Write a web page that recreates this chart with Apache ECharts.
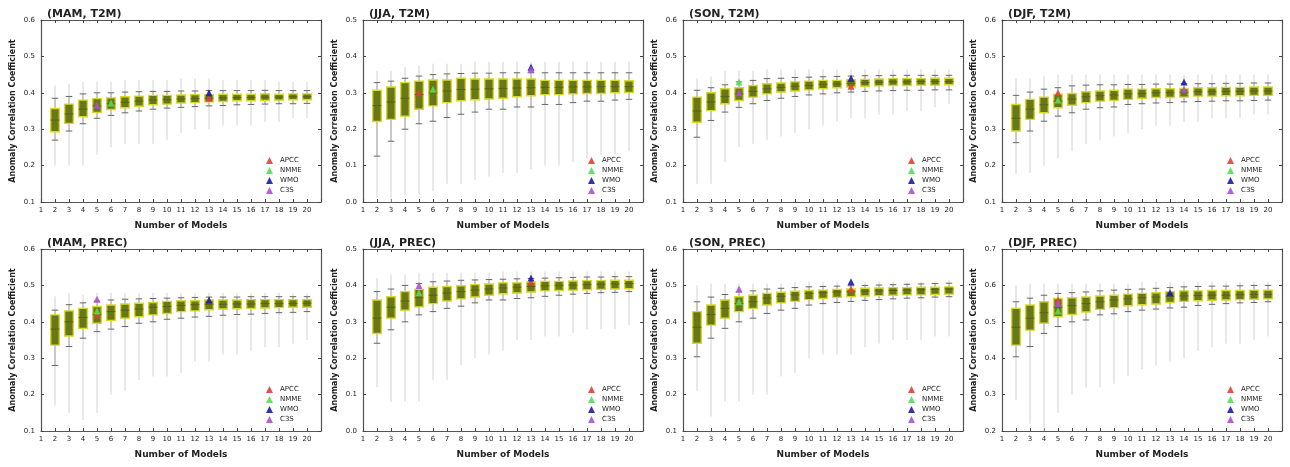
<!DOCTYPE html>
<html>
<head>
<meta charset="utf-8">
<title>Anomaly Correlation Coefficient vs Number of Models</title>
<script src="https://cdn.jsdelivr.net/npm/echarts@6/dist/echarts.min.js"></script>
<style>
  html, body { margin: 0; padding: 0; background: #fff; }
  #chart { width: 1290px; height: 467px; }
</style>
</head>
<body>
<div id="chart"></div>
<script>
// Ensemble sizes that have a box (1 model has none)
const modelCounts = [2, 3, 4, 5, 6, 7, 8, 9, 10, 11, 12, 13, 14, 15, 16, 17, 18, 19, 20];
const mmeNames = ['APCC', 'NMME', 'WMO', 'C3S'];
const mmeColors = ['#e0403a', '#55dd55', '#1c1ca8', '#b050d0'];

// Each row: [min, lower whisker, Q1, median, Q3, upper whisker, max]
const MAM_T2M = [
  [0.20, 0.270, 0.293, 0.325, 0.357, 0.385, 0.420],
  [0.20, 0.295, 0.316, 0.342, 0.369, 0.390, 0.425],
  [0.20, 0.315, 0.334, 0.355, 0.380, 0.397, 0.430],
  [0.23, 0.330, 0.346, 0.364, 0.384, 0.400, 0.430],
  [0.25, 0.338, 0.354, 0.370, 0.386, 0.400, 0.430],
  [0.26, 0.345, 0.359, 0.374, 0.389, 0.402, 0.435],
  [0.26, 0.350, 0.363, 0.377, 0.391, 0.403, 0.435],
  [0.26, 0.355, 0.367, 0.380, 0.393, 0.404, 0.435],
  [0.27, 0.358, 0.369, 0.381, 0.393, 0.404, 0.435],
  [0.29, 0.360, 0.372, 0.383, 0.394, 0.405, 0.440],
  [0.30, 0.362, 0.373, 0.384, 0.395, 0.405, 0.440],
  [0.30, 0.364, 0.375, 0.385, 0.395, 0.406, 0.440],
  [0.31, 0.365, 0.376, 0.386, 0.396, 0.406, 0.435],
  [0.31, 0.367, 0.378, 0.387, 0.396, 0.406, 0.435],
  [0.31, 0.368, 0.378, 0.387, 0.396, 0.406, 0.435],
  [0.32, 0.369, 0.379, 0.388, 0.397, 0.407, 0.435],
  [0.32, 0.370, 0.380, 0.388, 0.396, 0.406, 0.430],
  [0.33, 0.370, 0.381, 0.389, 0.397, 0.406, 0.430],
  [0.33, 0.371, 0.381, 0.389, 0.397, 0.406, 0.430]
];
const JJA_T2M = [
  [0.01, 0.126, 0.221, 0.265, 0.307, 0.328, 0.360],
  [0.00, 0.167, 0.227, 0.275, 0.316, 0.332, 0.360],
  [0.02, 0.200, 0.236, 0.285, 0.328, 0.340, 0.370],
  [0.02, 0.215, 0.255, 0.295, 0.332, 0.346, 0.375],
  [0.03, 0.222, 0.264, 0.300, 0.335, 0.350, 0.380],
  [0.05, 0.232, 0.273, 0.305, 0.335, 0.352, 0.380],
  [0.05, 0.241, 0.278, 0.309, 0.340, 0.353, 0.380],
  [0.06, 0.247, 0.281, 0.310, 0.338, 0.354, 0.385],
  [0.07, 0.255, 0.283, 0.311, 0.338, 0.354, 0.385],
  [0.08, 0.255, 0.285, 0.312, 0.338, 0.355, 0.385],
  [0.08, 0.261, 0.289, 0.313, 0.338, 0.355, 0.385],
  [0.09, 0.261, 0.292, 0.314, 0.338, 0.355, 0.385],
  [0.10, 0.268, 0.295, 0.315, 0.334, 0.355, 0.385],
  [0.10, 0.268, 0.295, 0.315, 0.334, 0.355, 0.385],
  [0.11, 0.273, 0.297, 0.316, 0.334, 0.355, 0.385],
  [0.12, 0.277, 0.298, 0.316, 0.334, 0.355, 0.385],
  [0.13, 0.277, 0.298, 0.317, 0.334, 0.355, 0.385],
  [0.13, 0.280, 0.300, 0.317, 0.334, 0.355, 0.385],
  [0.14, 0.282, 0.301, 0.317, 0.333, 0.355, 0.385]
];
const SON_T2M = [
  [0.15, 0.278, 0.319, 0.350, 0.388, 0.407, 0.440],
  [0.15, 0.324, 0.351, 0.375, 0.400, 0.414, 0.445],
  [0.21, 0.347, 0.370, 0.390, 0.411, 0.422, 0.460],
  [0.25, 0.360, 0.379, 0.397, 0.414, 0.430, 0.460],
  [0.26, 0.370, 0.388, 0.404, 0.420, 0.434, 0.460],
  [0.27, 0.379, 0.397, 0.411, 0.425, 0.439, 0.465],
  [0.28, 0.385, 0.402, 0.415, 0.427, 0.440, 0.465],
  [0.29, 0.390, 0.405, 0.418, 0.430, 0.442, 0.465],
  [0.30, 0.394, 0.408, 0.420, 0.432, 0.443, 0.465],
  [0.31, 0.397, 0.411, 0.423, 0.434, 0.444, 0.465],
  [0.32, 0.400, 0.414, 0.424, 0.434, 0.445, 0.465],
  [0.33, 0.402, 0.416, 0.426, 0.436, 0.446, 0.465],
  [0.33, 0.404, 0.418, 0.428, 0.437, 0.447, 0.465],
  [0.34, 0.405, 0.419, 0.429, 0.438, 0.447, 0.465],
  [0.34, 0.406, 0.420, 0.430, 0.439, 0.448, 0.465],
  [0.35, 0.407, 0.420, 0.430, 0.439, 0.448, 0.465],
  [0.35, 0.407, 0.421, 0.431, 0.439, 0.448, 0.465],
  [0.36, 0.408, 0.421, 0.431, 0.440, 0.448, 0.465],
  [0.37, 0.408, 0.422, 0.431, 0.440, 0.448, 0.465]
];
const DJF_T2M = [
  [0.176, 0.263, 0.295, 0.330, 0.368, 0.393, 0.440],
  [0.18, 0.295, 0.327, 0.355, 0.382, 0.402, 0.440],
  [0.20, 0.322, 0.345, 0.367, 0.388, 0.410, 0.445],
  [0.22, 0.336, 0.359, 0.377, 0.396, 0.414, 0.450],
  [0.24, 0.345, 0.366, 0.383, 0.398, 0.419, 0.450],
  [0.26, 0.355, 0.373, 0.389, 0.403, 0.421, 0.450],
  [0.27, 0.359, 0.377, 0.392, 0.405, 0.422, 0.450],
  [0.28, 0.361, 0.379, 0.394, 0.407, 0.422, 0.450],
  [0.29, 0.368, 0.382, 0.397, 0.410, 0.423, 0.450],
  [0.30, 0.370, 0.385, 0.398, 0.410, 0.423, 0.450],
  [0.31, 0.372, 0.387, 0.400, 0.411, 0.424, 0.450],
  [0.31, 0.373, 0.387, 0.400, 0.411, 0.424, 0.450],
  [0.32, 0.375, 0.388, 0.401, 0.412, 0.425, 0.450],
  [0.32, 0.376, 0.391, 0.403, 0.414, 0.425, 0.450],
  [0.33, 0.377, 0.391, 0.403, 0.414, 0.425, 0.450],
  [0.33, 0.378, 0.392, 0.404, 0.415, 0.426, 0.450],
  [0.33, 0.378, 0.392, 0.404, 0.415, 0.426, 0.450],
  [0.34, 0.379, 0.393, 0.405, 0.416, 0.427, 0.450],
  [0.34, 0.380, 0.393, 0.405, 0.416, 0.427, 0.450]
];
const MAM_PREC = [
  [0.17, 0.280, 0.336, 0.380, 0.419, 0.432, 0.470],
  [0.15, 0.332, 0.361, 0.400, 0.430, 0.447, 0.480],
  [0.13, 0.355, 0.382, 0.412, 0.437, 0.452, 0.475],
  [0.15, 0.373, 0.396, 0.420, 0.442, 0.457, 0.480],
  [0.20, 0.380, 0.404, 0.428, 0.446, 0.460, 0.480],
  [0.21, 0.387, 0.410, 0.432, 0.449, 0.462, 0.480],
  [0.24, 0.396, 0.414, 0.435, 0.451, 0.463, 0.480],
  [0.25, 0.400, 0.419, 0.440, 0.453, 0.464, 0.480],
  [0.25, 0.407, 0.423, 0.442, 0.456, 0.465, 0.480],
  [0.26, 0.410, 0.428, 0.445, 0.458, 0.466, 0.480],
  [0.29, 0.413, 0.430, 0.447, 0.458, 0.467, 0.480],
  [0.29, 0.415, 0.433, 0.448, 0.460, 0.468, 0.480],
  [0.31, 0.418, 0.435, 0.448, 0.460, 0.468, 0.480],
  [0.31, 0.420, 0.436, 0.449, 0.460, 0.468, 0.480],
  [0.32, 0.421, 0.437, 0.449, 0.461, 0.469, 0.480],
  [0.33, 0.423, 0.438, 0.450, 0.461, 0.469, 0.480],
  [0.33, 0.425, 0.439, 0.450, 0.461, 0.469, 0.480],
  [0.34, 0.426, 0.440, 0.450, 0.461, 0.469, 0.480],
  [0.35, 0.428, 0.440, 0.451, 0.461, 0.469, 0.478]
];
const JJA_PREC = [
  [0.12, 0.241, 0.268, 0.310, 0.360, 0.383, 0.420],
  [0.08, 0.278, 0.310, 0.340, 0.369, 0.390, 0.430],
  [0.08, 0.300, 0.332, 0.357, 0.383, 0.400, 0.430],
  [0.08, 0.319, 0.341, 0.366, 0.389, 0.405, 0.435],
  [0.14, 0.328, 0.350, 0.373, 0.395, 0.410, 0.435],
  [0.14, 0.337, 0.357, 0.379, 0.397, 0.412, 0.435],
  [0.18, 0.343, 0.363, 0.383, 0.399, 0.414, 0.435],
  [0.20, 0.352, 0.368, 0.387, 0.402, 0.415, 0.435],
  [0.21, 0.360, 0.373, 0.390, 0.404, 0.416, 0.435],
  [0.22, 0.360, 0.377, 0.393, 0.407, 0.417, 0.438],
  [0.25, 0.364, 0.379, 0.395, 0.407, 0.418, 0.438],
  [0.25, 0.366, 0.382, 0.397, 0.409, 0.419, 0.438],
  [0.26, 0.370, 0.385, 0.399, 0.411, 0.420, 0.438],
  [0.26, 0.373, 0.386, 0.400, 0.411, 0.421, 0.438],
  [0.27, 0.376, 0.387, 0.401, 0.412, 0.422, 0.438],
  [0.28, 0.378, 0.388, 0.402, 0.413, 0.423, 0.438],
  [0.28, 0.380, 0.389, 0.403, 0.413, 0.423, 0.438],
  [0.28, 0.381, 0.390, 0.404, 0.414, 0.424, 0.438],
  [0.29, 0.383, 0.391, 0.405, 0.414, 0.424, 0.438]
];
const SON_PREC = [
  [0.21, 0.304, 0.341, 0.385, 0.428, 0.455, 0.500],
  [0.14, 0.355, 0.391, 0.420, 0.446, 0.468, 0.505],
  [0.18, 0.382, 0.410, 0.437, 0.460, 0.475, 0.505],
  [0.18, 0.400, 0.428, 0.450, 0.469, 0.482, 0.505],
  [0.20, 0.410, 0.437, 0.455, 0.473, 0.485, 0.505],
  [0.20, 0.423, 0.446, 0.465, 0.478, 0.490, 0.505],
  [0.25, 0.432, 0.452, 0.470, 0.481, 0.492, 0.505],
  [0.26, 0.437, 0.456, 0.474, 0.484, 0.494, 0.510],
  [0.30, 0.446, 0.461, 0.478, 0.486, 0.496, 0.510],
  [0.31, 0.450, 0.464, 0.480, 0.487, 0.497, 0.510],
  [0.31, 0.453, 0.467, 0.482, 0.489, 0.498, 0.510],
  [0.31, 0.456, 0.469, 0.483, 0.490, 0.499, 0.510],
  [0.33, 0.459, 0.471, 0.484, 0.492, 0.500, 0.510],
  [0.34, 0.461, 0.472, 0.485, 0.493, 0.501, 0.510],
  [0.35, 0.463, 0.473, 0.486, 0.494, 0.502, 0.510],
  [0.35, 0.465, 0.474, 0.487, 0.494, 0.503, 0.510],
  [0.35, 0.466, 0.474, 0.488, 0.495, 0.504, 0.510],
  [0.36, 0.468, 0.475, 0.489, 0.495, 0.505, 0.510],
  [0.36, 0.469, 0.476, 0.490, 0.496, 0.506, 0.515]
];
const DJF_PREC = [
  [0.285, 0.404, 0.436, 0.485, 0.537, 0.555, 0.600],
  [0.22, 0.432, 0.477, 0.510, 0.546, 0.565, 0.605],
  [0.20, 0.468, 0.496, 0.525, 0.555, 0.573, 0.605],
  [0.25, 0.487, 0.514, 0.540, 0.564, 0.578, 0.605],
  [0.30, 0.500, 0.520, 0.545, 0.566, 0.580, 0.605],
  [0.32, 0.505, 0.527, 0.550, 0.568, 0.582, 0.605],
  [0.32, 0.519, 0.534, 0.555, 0.571, 0.585, 0.605],
  [0.33, 0.522, 0.539, 0.560, 0.573, 0.587, 0.605],
  [0.35, 0.528, 0.544, 0.563, 0.576, 0.589, 0.605],
  [0.37, 0.532, 0.547, 0.566, 0.578, 0.590, 0.610],
  [0.38, 0.535, 0.549, 0.568, 0.580, 0.592, 0.610],
  [0.39, 0.538, 0.553, 0.570, 0.583, 0.594, 0.610],
  [0.40, 0.540, 0.556, 0.571, 0.585, 0.596, 0.610],
  [0.42, 0.545, 0.558, 0.572, 0.585, 0.597, 0.610],
  [0.43, 0.548, 0.559, 0.573, 0.586, 0.598, 0.610],
  [0.44, 0.550, 0.560, 0.573, 0.586, 0.598, 0.610],
  [0.44, 0.552, 0.561, 0.574, 0.586, 0.599, 0.610],
  [0.45, 0.553, 0.562, 0.575, 0.587, 0.600, 0.610],
  [0.46, 0.555, 0.563, 0.575, 0.587, 0.600, 0.610]
];

// Multi-model ensemble scores, in the order APCC, NMME, WMO, C3S: [number of models, ACC]
const MAM_T2M_MME = [[13, 0.385], [6, 0.372], [13, 0.400], [5, 0.366]];
const JJA_T2M_MME = [[5, 0.300], [6, 0.310], [13, 0.370], [13, 0.365]];
const SON_T2M_MME = [[13, 0.418], [5, 0.430], [13, 0.440], [5, 0.400]];
const DJF_T2M_MME = [[5, 0.400], [5, 0.380], [14, 0.430], [14, 0.410]];
const MAM_PREC_MME = [[5, 0.420], [5, 0.430], [13, 0.460], [5, 0.462]];
const JJA_PREC_MME = [[13, 0.410], [5, 0.380], [13, 0.420], [5, 0.400]];
const SON_PREC_MME = [[13, 0.490], [5, 0.455], [13, 0.510], [5, 0.490]];
const DJF_PREC_MME = [[5, 0.560], [5, 0.530], [13, 0.580], [5, 0.550]];

const panelTitles = ['(MAM, T2M)', '(JJA, T2M)', '(SON, T2M)', '(DJF, T2M)',
                     '(MAM, PREC)', '(JJA, PREC)', '(SON, PREC)', '(DJF, PREC)'];
const panelBoxes = [MAM_T2M, JJA_T2M, SON_T2M, DJF_T2M, MAM_PREC, JJA_PREC, SON_PREC, DJF_PREC];
const panelMme = [MAM_T2M_MME, JJA_T2M_MME, SON_T2M_MME, DJF_T2M_MME,
                  MAM_PREC_MME, JJA_PREC_MME, SON_PREC_MME, DJF_PREC_MME];
const yMins = [0.1, 0.0, 0.1, 0.1, 0.1, 0.0, 0.1, 0.2];
const yMaxs = [0.6, 0.5, 0.6, 0.6, 0.6, 0.5, 0.6, 0.7];

// Layout of the 4 x 2 panel grid
const colLefts = [41, 363, 683, 1002];
const rowTops = [20, 249];
const plotW = 280, plotH = 182;
const FONT = 'DejaVu Sans';

function renderBox(params, api) {
  const x = api.value(0);
  const mn = api.value(1), lo = api.value(2), q1 = api.value(3), med = api.value(4),
        q3 = api.value(5), hi = api.value(6), mx = api.value(7);
  const pMin = api.coord([x, mn]), pMax = api.coord([x, mx]);
  const pLo = api.coord([x, lo]), pHi = api.coord([x, hi]);
  const pQ1 = api.coord([x, q1]), pQ3 = api.coord([x, q3]), pMed = api.coord([x, med]);
  const bw = api.size([1, 0])[0] * 0.62;
  const cw = bw * 0.75;
  const cx = pMin[0];
  return {
    type: 'group',
    children: [
      { type: 'line', shape: { x1: cx, y1: pMin[1], x2: cx, y2: pMax[1] },
        style: { stroke: '#d2d2d2', lineWidth: 1 } },
      { type: 'line', shape: { x1: cx, y1: pLo[1], x2: cx, y2: pHi[1] },
        style: { stroke: '#a8a8a8', lineWidth: 1 } },
      { type: 'line', shape: { x1: cx - cw / 2, y1: pLo[1], x2: cx + cw / 2, y2: pLo[1] },
        style: { stroke: '#666', lineWidth: 1 } },
      { type: 'line', shape: { x1: cx - cw / 2, y1: pHi[1], x2: cx + cw / 2, y2: pHi[1] },
        style: { stroke: '#666', lineWidth: 1 } },
      { type: 'rect', shape: { x: cx - bw / 2, y: pQ3[1], width: bw, height: pQ1[1] - pQ3[1] },
        style: { fill: '#687719', stroke: '#d9d92a', lineWidth: 1.4 } },
      { type: 'line', shape: { x1: cx - bw / 2, y1: pMed[1], x2: cx + bw / 2, y2: pMed[1] },
        style: { stroke: '#55621a', lineWidth: 1 } }
    ]
  };
}

const grid = [], xAxis = [], yAxis = [], series = [], title = [], legend = [];

panelTitles.forEach((name, i) => {
  const col = i % 4, row = Math.floor(i / 4);
  const left = colLefts[col], top = rowTops[row];
  grid.push({ left: left, top: top, width: plotW, height: plotH, show: false });

  const tickStyle = { show: true, inside: true, length: 3, lineStyle: { color: '#444', width: 1 } };
  const lineStyle = { show: true, onZero: false, lineStyle: { color: '#555', width: 1.2 } };

  xAxis.push({
    type: 'value', gridIndex: i, min: 1, max: 21, interval: 1,
    axisLine: lineStyle, axisTick: tickStyle, splitLine: { show: false },
    axisLabel: { fontSize: 7, color: '#222', margin: 5, fontFamily: FONT,
                 formatter: v => (v === 21 ? '' : String(v)) },
    name: 'Number of Models', nameLocation: 'middle', nameGap: 19,
    nameTextStyle: { fontSize: 9, fontWeight: 'bold', color: '#222', fontFamily: FONT }
  });
  xAxis.push({
    type: 'value', gridIndex: i, position: 'top', min: 1, max: 21, interval: 1,
    axisLine: lineStyle, axisTick: tickStyle, axisLabel: { show: false }, splitLine: { show: false }
  });
  yAxis.push({
    type: 'value', gridIndex: i, min: yMins[i], max: yMaxs[i], interval: 0.1,
    axisLine: lineStyle, axisTick: tickStyle, splitLine: { show: false },
    axisLabel: { fontSize: 7, color: '#222', margin: 6, fontFamily: FONT,
                 formatter: v => v.toFixed(1) },
    name: 'Anomaly Correlation Coefficient', nameLocation: 'middle', nameRotate: 90, nameGap: 24,
    nameTextStyle: { fontSize: 8, fontWeight: 'bold', color: '#222', fontFamily: FONT }
  });
  yAxis.push({
    type: 'value', gridIndex: i, position: 'right', min: yMins[i], max: yMaxs[i], interval: 0.1,
    axisLine: lineStyle, axisTick: tickStyle, axisLabel: { show: false }, splitLine: { show: false }
  });

  title.push({
    text: name, left: left + 1, top: top - 16,
    textStyle: { fontSize: 11, fontWeight: 'bold', color: '#222', fontFamily: FONT }
  });

  series.push({
    type: 'custom', name: 'ensembles ' + name, xAxisIndex: 2 * i, yAxisIndex: 2 * i,
    renderItem: renderBox, z: 2,
    encode: { x: 0, y: [1, 2, 3, 4, 5, 6, 7] },
    data: panelBoxes[i].map((r, k) => [modelCounts[k]].concat(r))
  });

  panelMme[i].forEach((pt, m) => {
    series.push({
      type: 'scatter', name: mmeNames[m], xAxisIndex: 2 * i, yAxisIndex: 2 * i,
      symbol: 'triangle', symbolSize: 7, z: 5,
      itemStyle: { color: mmeColors[m], opacity: 0.9 },
      data: [pt]
    });
  });

  legend.push({
    data: mmeNames, orient: 'vertical', left: left + 225, top: top + 137,
    padding: 0, itemWidth: 7, itemHeight: 7, itemGap: 3, selectedMode: false,
    textStyle: { fontSize: 7, color: '#222', fontFamily: FONT, padding: [0, 0, 0, 2] }
  });
});

const chart = echarts.init(document.getElementById('chart'), null, { renderer: 'canvas' });
chart.setOption({
  animation: false,
  backgroundColor: '#fff',
  textStyle: { fontFamily: FONT },
  title, legend, grid, xAxis, yAxis, series
});
</script>
</body>
</html>
